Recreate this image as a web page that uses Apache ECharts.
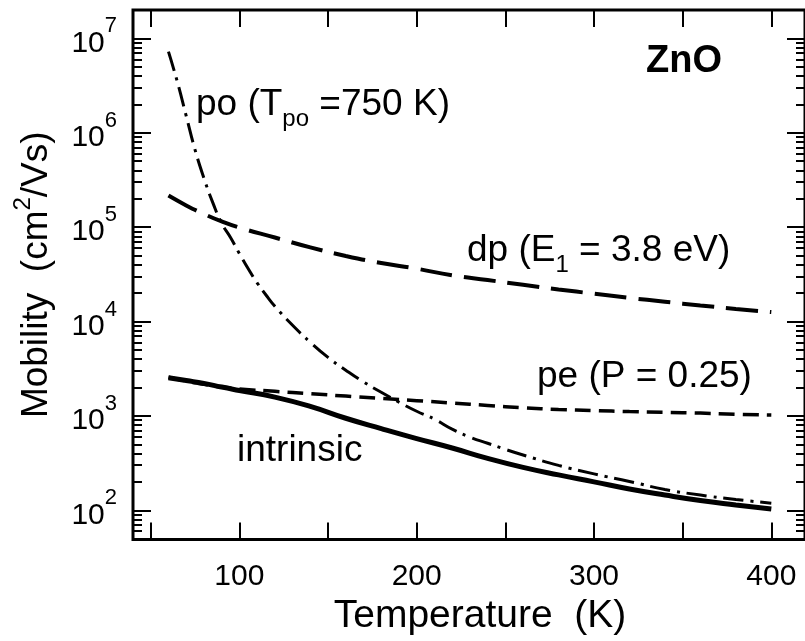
<!DOCTYPE html>
<html>
<head>
<meta charset="utf-8">
<script src="https://cdn.jsdelivr.net/npm/echarts@6/dist/echarts.min.js"></script>
<style>html,body{margin:0;background:#fff}#chart{width:805px;height:641px}</style>
</head>
<body>
<div id="chart"></div>
<script>
// 读图得到的数据:温度 (K) 与迁移率 (cm2/Vs)
const tMain = [60,70,80,90,100,120,140,160,180,200,220,240,260,280,300,320,340,360,380,400]
const intrinsic = [2540,2370,2210,2020,1860,1580,1260,944,733,575,457,355,285,237,200,168,145,127,114,103]
const pe = [2570,2340,2160,2020,1930,1820,1720,1620,1530,1450,1370,1290,1220,1170,1140,1110,1090,1070,1040,1020]
const dp = [216000,170000,138000,115000,98900,77600,61000,49500,41700,36300,30900,27500,24500,21900,19700,17800,16200,14800,13600,12600]

const tPo = [60,65,70,75,80,85,90,95,100,105,110,115,120,130,140,150,160,170,180,190,200,210,220,230,240,250,260,280,300,320,340,360,380,400]
const po = [7.24e6,3.47e6,1.51e6,6.6e5,3.31e5,1.82e5,1.10e5,7.76e4,5.25e4,3.63e4,2.57e4,1.91e4,1.45e4,9120,6030,4170,3050,2290,1780,1400,1120,923,724,596,513,442,385,299,243,202,166,145,130,119]

// 坐标轴
const xRange = [40, 419]
const xTicks = [50,100,150,200,250,300,350,400]
const xLabels = [100,200,300,400]
const yRange = [49, 2e7]
const yMajor = [1e2,1e3,1e4,1e5,1e6,1e7]
const yMinor = []
for(let n=1;n<=7;n++) for(let k=2;k<=9;k++){ const v=k*Math.pow(10,n); if(v>yRange[0] && v<yRange[1]) yMinor.push(v) }

const FONT = 'Liberation Sans, Arial, Helvetica, sans-serif'
const pairs = (xs, ys) => xs.map((x,i)=>[x, ys[i]])

function xAxis(pos, withLabel){
  return {
    type:'value', position:pos, min:xRange[0], max:xRange[1],
    axisLine:{show:false}, splitLine:{show:false},
    axisTick:{show:true, inside:true, length:17, customValues:xTicks, lineStyle:{color:'#000',width:2}},
    axisLabel: withLabel ? {customValues:xLabels, color:'#000', fontSize:30, fontFamily:FONT, margin:22} : {show:false},
    name: withLabel ? 'Temperature  (K)' : '', nameLocation:'middle', nameGap:77,
    nameTextStyle:{color:'#000', fontSize:39, fontFamily:FONT, verticalAlign:'middle', padding:[0,0,0,22]}
  }
}

function yAxis(pos, minor, withLabel){
  const ax = {
    type:'log', logBase:10, position:pos, min:yRange[0], max:yRange[1],
    axisLine:{show:false}, splitLine:{show:false}, minorTick:{show:false},
    axisTick:{show:true, inside:true, length:minor?9:18, customValues:minor?yMinor:yMajor, lineStyle:{color:'#000',width:2}},
    axisLabel:{show:false}
  }
  if(withLabel){
    ax.axisLabel = {
      customValues:yMajor, margin:16, color:'#000', fontFamily:FONT, padding:[10,0,0,0],
      formatter: v => '{b|10}{s|' + Math.round(Math.log10(v)) + '}',
      rich:{
        b:{fontSize:30, lineHeight:30, fontFamily:FONT, color:'#000', verticalAlign:'bottom'},
        s:{fontSize:22, lineHeight:22, fontFamily:FONT, color:'#000', verticalAlign:'bottom', padding:[0,0,21,0]}
      }
    }
    ax.name = '{a|Mobility  (cm}{s|2}{a|/Vs)}'
    ax.nameLocation = 'middle'
    ax.nameGap = 96
    ax.nameRotate = 90
    ax.nameTextStyle = {
      verticalAlign:'middle',
      rich:{
        a:{fontSize:37, lineHeight:37, fontFamily:FONT, color:'#000', verticalAlign:'bottom'},
        s:{fontSize:24, lineHeight:24, fontFamily:FONT, color:'#000', verticalAlign:'bottom', padding:[0,0,20,0]}
      }
    }
  }
  return ax
}

// 带下标的标注
const sub = {
  m:{fontSize:37, lineHeight:37, fontFamily:FONT, fill:'#000', verticalAlign:'top'},
  s:{fontSize:24, lineHeight:24, fontFamily:FONT, fill:'#000', verticalAlign:'top', padding:[21,0,0,0]}
}
function note(left, top, text, rich){
  return {type:'text', left, top, z:10,
    style: rich ? {text, rich, fill:'#000', fontSize:37, fontFamily:FONT}
                : {text, fill:'#000', fontSize:37, fontFamily:FONT}}
}

function line(name, data, width, dash){
  return {name, type:'line', data, xAxisIndex:0, yAxisIndex:0, showSymbol:false, symbol:'none',
    smooth:0.5, silent:true,
    lineStyle:{color:'#000', width, type:dash, cap:'butt'}}
}

const chart = echarts.init(document.getElementById('chart'))
chart.setOption({
  animation:false,
  backgroundColor:'#fff',
  grid:{left:133, top:10, width:675, height:532, show:true, borderColor:'#000', borderWidth:3, backgroundColor:'transparent'},
  xAxis:[xAxis('bottom', true), xAxis('top', false)],
  yAxis:[yAxis('left', false, true), yAxis('left', true, false), yAxis('right', false, false), yAxis('right', true, false)],
  series:[
    line('dp', pairs(tMain, dp), 4, [32,12]),
    line('pe', pairs(tMain, pe), 3.5, [16,8]),
    line('po', pairs(tPo, po), 3, [20,7,3,7]),
    line('intrinsic', pairs(tMain, intrinsic), 5, 'solid')
  ],
  graphic:[
    {type:'text', left:646, top:43, z:10, style:{text:'ZnO', fill:'#000', fontSize:38, fontWeight:'bold', fontFamily:FONT}},
    note(196, 86, '{m|po (T}{s|po}{m| =750 K)}', sub),
    note(467, 232, '{m|dp (E}{s|1}{m| = 3.8 eV)}', sub),
    note(537, 358, 'pe (P = 0.25)'),
    note(237, 432, 'intrinsic')
  ]
})
</script>
</body>
</html>
